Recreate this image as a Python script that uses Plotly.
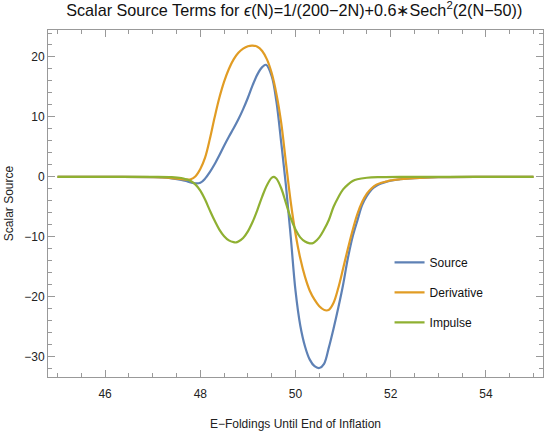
import plotly.graph_objects as go

# Source (blue)
src_x = [45, 46, 47, 47.2, 47.4, 47.6, 47.7, 47.8, 47.9, 48.0, 48.1, 48.2, 48.3, 48.4, 48.5, 48.6,
         48.7, 48.8, 48.9, 49.0, 49.1, 49.2, 49.3, 49.38, 49.5, 49.6, 49.7, 49.8, 49.9, 50.0, 50.1,
         50.2, 50.3, 50.4, 50.5, 50.6, 50.7, 50.8, 50.9, 51.0, 51.1, 51.2, 51.3, 51.4, 51.5, 51.6,
         51.7, 51.8, 51.9, 52.0, 52.2, 52.5, 53, 54, 55]
src_y = [0, 0, -0.05, -0.1, -0.25, -0.5, -0.7, -0.95, -1.1, -1.0, -0.3, 0.8, 2.1, 3.6, 5.2, 6.7,
         8.1, 9.6, 11.3, 13.2, 15.3, 17.1, 18.3, 18.7, 16.8, 12.5, 5.7, -1.5, -10.0, -19.0, -24.8,
         -28.3, -30.5, -31.6, -31.9, -31.2, -28.5, -25.3, -21.8, -18.0, -13.6, -10.0, -7.3, -4.7, -3.2, -2.1,
         -1.5, -1.1, -0.85, -0.65, -0.4, -0.2, -0.05, 0, 0]

# Derivative (orange)
der_x = [45, 46, 47, 47.2, 47.4, 47.6, 47.7, 47.8, 47.9, 48.0, 48.1, 48.2, 48.3, 48.4, 48.5, 48.6,
         48.7, 48.8, 48.9, 49.0, 49.1, 49.2, 49.3, 49.4, 49.5, 49.6, 49.7, 49.8, 49.9, 50.0, 50.1,
         50.2, 50.3, 50.4, 50.5, 50.6, 50.65, 50.7, 50.8, 50.9, 51.0, 51.1, 51.2, 51.3, 51.4, 51.5,
         51.6, 51.7, 51.8, 51.9, 52.0, 52.2, 52.5, 53, 54, 55]
der_y = [0, 0, -0.05, -0.1, -0.2, -0.4, -0.45, -0.4, 0.1, 1.3, 3.2, 6.3, 9.9, 13.2, 15.9, 18.0,
         19.6, 20.7, 21.4, 21.8, 21.9, 21.7, 21.0, 19.6, 17.3, 13.8, 9.0, 2.3, -4.2, -9.5, -13.6,
         -16.7, -19.0, -20.5, -21.6, -22.2, -22.3, -22.2, -21.0, -18.5, -15.3, -12.0, -8.9, -6.2, -4.2, -2.8,
         -1.9, -1.3, -1.0, -0.8, -0.6, -0.4, -0.2, -0.05, 0, 0]

# Impulse (green)
imp_x = [45, 46, 47, 47.4, 47.6, 47.7, 47.8, 47.9, 48.0, 48.1, 48.2, 48.3, 48.4, 48.5, 48.6, 48.7,
         48.75, 48.8, 48.9, 49.0, 49.1, 49.2, 49.3, 49.4, 49.5, 49.55, 49.6, 49.7, 49.8, 49.9, 50.0,
         50.1, 50.2, 50.3, 50.35, 50.4, 50.5, 50.6, 50.7, 50.8, 50.9, 51.0, 51.1, 51.2, 51.3, 51.5,
         51.8, 52.2, 53, 54, 55]
imp_y = [0, 0, 0, -0.05, -0.2, -0.4, -0.7, -1.3, -2.3, -3.8, -5.6, -7.3, -8.8, -9.9, -10.6, -10.9,
         -10.95, -10.8, -10.2, -9.1, -7.5, -5.5, -3.3, -1.4, -0.15, 0, -0.3, -1.9, -4.4, -6.9, -8.8,
         -10.1, -10.8, -11.1, -11.1, -10.9, -10.1, -8.8, -7.2, -5.0, -3.4, -2.1, -1.3, -0.7, -0.4, -0.15,
         -0.05, 0, 0, 0, 0]

names = ["Source", "Derivative", "Impulse"]
colors = ["#5E81B5", "#E19C24", "#8FB032"]

fig = go.Figure()
for nm, xs, ys, c in zip(names, [src_x, der_x, imp_x], [src_y, der_y, imp_y], colors):
    fig.add_trace(go.Scatter(x=xs, y=ys, mode="lines", name=nm, legendgroup=nm,
                             line=dict(color=c, width=2.2, shape="spline", smoothing=1.0)))

axis_common = dict(showgrid=False, zeroline=False, showline=True, linecolor="#999999", linewidth=1,
                   mirror="ticks", ticks="inside", tickcolor="#999999", tickwidth=1,
                   tickfont=dict(family="Liberation Sans, Arial", size=12, color="#222222"))

fig.update_xaxes(range=[44.8, 55.2], tick0=46, dtick=2, ticklen=7, ticklabelstandoff=6,
                 minor=dict(ticks="inside", dtick=0.5, ticklen=4, tickcolor="#999999"),
                 title=dict(text="E−Foldings Until End of Inflation", standoff=19,
                            font=dict(family="Liberation Sans, Arial", size=12, color="#222222")),
                 **axis_common)
fig.update_yaxes(range=[-33.4, 24.5], tick0=0, dtick=10, ticklen=7,
                 minor=dict(ticks="inside", dtick=2, ticklen=4, tickcolor="#999999"),
                 title=dict(text="Scalar Source", standoff=8,
                            font=dict(family="Liberation Sans, Arial", size=12, color="#222222")),
                 **axis_common)

fig.update_layout(
    width=545, height=436,
    margin=dict(l=48, r=2, t=30, b=59),
    paper_bgcolor="white", plot_bgcolor="white",
    title=dict(text="Scalar Source Terms for <i>ϵ</i>(N)=1/(200−2N)+0.6∗Sech<sup>2</sup>(2(N−50))",
               x=0.54, xanchor="center", y=0.99, yanchor="top",
               font=dict(family="Liberation Sans, Arial", size=16.2, color="#111111")),
    legend=dict(x=0.69, y=0.372, xanchor="left", yanchor="top", tracegroupgap=11,
                bgcolor="rgba(0,0,0,0)", font=dict(family="Liberation Sans, Arial", size=12, color="#111111")),
    showlegend=True,
)

fig.write_html("out.html", config={"displayModeBar": False},
               post_script="document.body.style.margin='0px';")
